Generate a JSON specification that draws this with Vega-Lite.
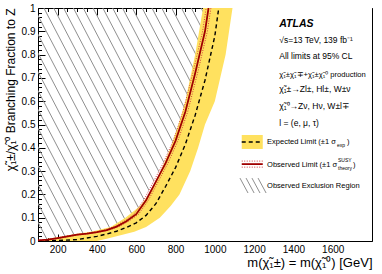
{
  "$schema": "https://vega.github.io/schema/vega-lite/v6.json",
  "width": 334,
  "height": 233,
  "autosize": "none",
  "padding": {"left": 38, "top": 8, "right": 10, "bottom": 33},
  "background": "white",
  "config": {
    "view": {"stroke": null},
    "axis": {"labelFont": "Liberation Sans", "titleFont": "Liberation Sans", "labelColor": "black", "titleColor": "black", "tickColor": "black", "domainColor": "black", "grid": false, "zindex": 1},
    "text": {"font": "Liberation Sans", "color": "black", "align": "left", "baseline": "alphabetic"}
  },
  "datasets": {
    "obs": [
      {"mass": 100, "br": 0.0, "mlo": 100, "mhi": 100},
      {"mass": 100, "br": 0.003, "mlo": 100, "mhi": 112},
      {"mass": 150, "br": 0.006, "mlo": 138, "mhi": 162},
      {"mass": 200, "br": 0.012, "mlo": 188, "mhi": 212},
      {"mass": 250, "br": 0.02, "mlo": 238, "mhi": 262},
      {"mass": 300, "br": 0.027, "mlo": 288, "mhi": 312},
      {"mass": 350, "br": 0.032, "mlo": 338, "mhi": 362},
      {"mass": 400, "br": 0.038, "mlo": 388, "mhi": 412},
      {"mass": 450, "br": 0.047, "mlo": 438, "mhi": 462},
      {"mass": 500, "br": 0.062, "mlo": 488, "mhi": 512},
      {"mass": 550, "br": 0.085, "mlo": 538, "mhi": 562},
      {"mass": 600, "br": 0.115, "mlo": 588, "mhi": 612},
      {"mass": 650, "br": 0.175, "mlo": 638, "mhi": 662},
      {"mass": 700, "br": 0.255, "mlo": 688, "mhi": 712},
      {"mass": 750, "br": 0.335, "mlo": 738, "mhi": 762},
      {"mass": 800, "br": 0.43, "mlo": 788, "mhi": 812},
      {"mass": 850, "br": 0.555, "mlo": 838, "mhi": 862},
      {"mass": 900, "br": 0.72, "mlo": 888, "mhi": 912},
      {"mass": 950, "br": 0.9, "mlo": 938, "mhi": 962},
      {"mass": 968, "br": 1.0, "mlo": 956, "mhi": 980}
    ],
    "exp": [
      {"mass": 100, "br": 0.0}, {"mass": 200, "br": 0.002}, {"mass": 300, "br": 0.006},
      {"mass": 400, "br": 0.02}, {"mass": 450, "br": 0.03}, {"mass": 500, "br": 0.042},
      {"mass": 550, "br": 0.058}, {"mass": 600, "br": 0.078}, {"mass": 650, "br": 0.11},
      {"mass": 700, "br": 0.16}, {"mass": 750, "br": 0.235}, {"mass": 800, "br": 0.315},
      {"mass": 850, "br": 0.415}, {"mass": 900, "br": 0.54}, {"mass": 950, "br": 0.69},
      {"mass": 1000, "br": 0.88}, {"mass": 1020, "br": 1.0}
    ],
    "band": [
      {"br": 0, "lo": 100, "hi": 400}, {"br": 0.01, "lo": 150, "hi": 450},
      {"br": 0.02, "lo": 230, "hi": 500}, {"br": 0.03, "lo": 290, "hi": 545},
      {"br": 0.04, "lo": 370, "hi": 590}, {"br": 0.06, "lo": 470, "hi": 650},
      {"br": 0.1, "lo": 545, "hi": 720}, {"br": 0.15, "lo": 620, "hi": 775},
      {"br": 0.2, "lo": 665, "hi": 820}, {"br": 0.3, "lo": 725, "hi": 875},
      {"br": 0.4, "lo": 775, "hi": 915}, {"br": 0.5, "lo": 815, "hi": 950},
      {"br": 0.6, "lo": 850, "hi": 1000}, {"br": 0.8, "lo": 900, "hi": 1055},
      {"br": 1.0, "lo": 940, "hi": 1090}
    ],
    "hatch": [
      {"top": -520, "bottom": 100}, {"top": -470, "bottom": 150}, {"top": -420, "bottom": 200},
      {"top": -370, "bottom": 250}, {"top": -320, "bottom": 300}, {"top": -270, "bottom": 350},
      {"top": -220, "bottom": 400}, {"top": -170, "bottom": 450}, {"top": -120, "bottom": 500},
      {"top": -70, "bottom": 550}, {"top": -20, "bottom": 600}, {"top": 30, "bottom": 650},
      {"top": 80, "bottom": 700}, {"top": 130, "bottom": 750}, {"top": 180, "bottom": 800},
      {"top": 230, "bottom": 850}, {"top": 280, "bottom": 900}, {"top": 330, "bottom": 950},
      {"top": 380, "bottom": 1000}, {"top": 430, "bottom": 1050}, {"top": 480, "bottom": 1100},
      {"top": 530, "bottom": 1150}, {"top": 580, "bottom": 1200}, {"top": 630, "bottom": 1250},
      {"top": 680, "bottom": 1300}, {"top": 730, "bottom": 1350}, {"top": 780, "bottom": 1400},
      {"top": 830, "bottom": 1450}, {"top": 880, "bottom": 1500}, {"top": 930, "bottom": 1550},
      {"top": 980, "bottom": 1600}
    ],
    "lhatch": [
      {"a": 1128, "b": 1169}, {"a": 1159, "b": 1200}, {"a": 1189, "b": 1230}, {"a": 1220, "b": 1261}
    ]
  },
  "resolve": {"axis": {"x": "independent", "y": "independent"}},
  "layer": [
    {
      "data": {"name": "hatch"},
      "mark": {"type": "rule", "color": "#8f8f8f", "strokeWidth": 1, "clip": true},
      "encoding": {
        "x": {"field": "top", "type": "quantitative", "scale": {"domain": [100, 1800], "nice": false, "zero": false}, "axis": null},
        "x2": {"field": "bottom"},
        "y": {"datum": 1, "type": "quantitative", "scale": {"domain": [0, 1], "nice": false, "zero": false}, "axis": null},
        "y2": {"datum": 0}
      }
    },
    {
      "data": {"name": "obs"},
      "mark": {"type": "area", "orient": "horizontal", "color": "white", "opacity": 1},
      "encoding": {
        "y": {"field": "br", "type": "quantitative", "scale": {"domain": [0, 1], "nice": false, "zero": false},
              "axis": {"orient": "left", "values": [0, 0.1, 0.2, 0.3, 0.4, 0.5, 0.6, 0.7, 0.8, 0.9, 1], "format": "~g", "ticks": false, "labelPadding": 3, "labelFontSize": 10, "domain": true,
                       "title": "χ̃₁±/χ̃₁⁰ Branching Fraction to Z", "titleAnchor": "end", "titleFontSize": 12, "titleFontWeight": "normal", "titlePadding": 4}},
        "x": {"field": "mlo", "type": "quantitative", "scale": {"domain": [100, 1800], "nice": false, "zero": false},
              "axis": {"orient": "bottom", "values": [200, 400, 600, 800, 1000, 1200, 1400, 1600], "format": "d", "ticks": false, "labelPadding": 3, "labelFontSize": 10, "domain": true,
                       "title": "m(χ̃₁±) = m(χ̃₁⁰) [GeV]", "titleAnchor": "end", "titleFontSize": 13, "titleFontWeight": "normal", "titlePadding": 2}},
        "x2": {"datum": 1800}
      }
    },
    {
      "data": {"name": "band"},
      "mark": {"type": "area", "orient": "horizontal", "color": "#ffe15f", "opacity": 1},
      "encoding": {
        "y": {"field": "br", "type": "quantitative", "axis": {"orient": "left", "values": [0, 0.1, 0.2, 0.3, 0.4, 0.5, 0.6, 0.7, 0.8, 0.9, 1], "labels": false, "domain": false, "tickSize": -7, "title": null}},
        "x": {"field": "lo", "type": "quantitative", "axis": {"orient": "bottom", "values": [200, 400, 600, 800, 1000, 1200, 1400, 1600], "labels": false, "domain": false, "tickSize": -7, "title": null}},
        "x2": {"field": "hi"}
      }
    },
    {
      "data": {"name": "exp"},
      "mark": {"type": "line", "color": "black", "strokeWidth": 1.4, "strokeDash": [4, 3], "clip": true},
      "encoding": {
        "x": {"field": "mass", "type": "quantitative", "axis": {"orient": "bottom", "values": [100, 150, 250, 300, 350, 450, 500, 550, 650, 700, 750, 850, 900, 950, 1050, 1100, 1150, 1250, 1300, 1350, 1450, 1500, 1550, 1650, 1700, 1750], "labels": false, "domain": false, "tickSize": -3.5, "title": null}},
        "y": {"field": "br", "type": "quantitative", "axis": {"orient": "left", "values": [0.02, 0.04, 0.06, 0.08, 0.12, 0.14, 0.16, 0.18, 0.22, 0.24, 0.26, 0.28, 0.32, 0.34, 0.36, 0.38, 0.42, 0.44, 0.46, 0.48, 0.52, 0.54, 0.56, 0.58, 0.62, 0.64, 0.66, 0.68, 0.72, 0.74, 0.76, 0.78, 0.82, 0.84, 0.86, 0.88, 0.92, 0.94, 0.96, 0.98], "labels": false, "domain": false, "tickSize": -3.5, "title": null}}
      }
    },
    {
      "data": {"name": "obs"},
      "mark": {"type": "line", "color": "#d23c3c", "strokeWidth": 1, "strokeDash": [1, 1.5], "clip": true},
      "encoding": {
        "x": {"field": "mlo", "type": "quantitative", "axis": {"orient": "top", "values": [100, 150, 250, 300, 350, 450, 500, 550, 650, 700, 750, 850, 900, 950, 1050, 1100, 1150, 1250, 1300, 1350, 1450, 1500, 1550, 1650, 1700, 1750], "labels": false, "domain": true, "tickSize": -3.5, "title": null}},
        "y": {"field": "br", "type": "quantitative", "axis": {"orient": "right", "values": [0.02, 0.04, 0.06, 0.08, 0.12, 0.14, 0.16, 0.18, 0.22, 0.24, 0.26, 0.28, 0.32, 0.34, 0.36, 0.38, 0.42, 0.44, 0.46, 0.48, 0.52, 0.54, 0.56, 0.58, 0.62, 0.64, 0.66, 0.68, 0.72, 0.74, 0.76, 0.78, 0.82, 0.84, 0.86, 0.88, 0.92, 0.94, 0.96, 0.98], "labels": false, "domain": true, "tickSize": -3.5, "title": null}}
      }
    },
    {
      "data": {"name": "obs"},
      "mark": {"type": "line", "color": "#d23c3c", "strokeWidth": 1, "strokeDash": [1, 1.5], "clip": true},
      "encoding": {
        "x": {"field": "mhi", "type": "quantitative", "axis": null},
        "y": {"field": "br", "type": "quantitative", "axis": null}
      }
    },
    {
      "data": {"name": "obs"},
      "mark": {"type": "line", "color": "#a00000", "strokeWidth": 1.8, "clip": true},
      "encoding": {
        "x": {"field": "mass", "type": "quantitative", "axis": {"orient": "top", "values": [200, 400, 600, 800, 1000, 1200, 1400, 1600], "labels": false, "domain": false, "tickSize": -7, "title": null}},
        "y": {"field": "br", "type": "quantitative", "axis": {"orient": "right", "values": [0, 0.1, 0.2, 0.3, 0.4, 0.5, 0.6, 0.7, 0.8, 0.9, 1], "labels": false, "domain": false, "tickSize": -7, "title": null}}
      }
    },
    {
      "data": {"values": [{"k": 1}]},
      "mark": {"type": "rect", "color": "#ffe15f"},
      "encoding": {
        "x": {"datum": 1137, "type": "quantitative", "axis": null}, "x2": {"datum": 1244},
        "y": {"datum": 0.455, "type": "quantitative", "axis": null}, "y2": {"datum": 0.395}
      }
    },
    {
      "data": {"values": [{"k": 1}]},
      "mark": {"type": "rule", "color": "black", "strokeWidth": 1.4, "strokeDash": [4, 3]},
      "encoding": {
        "x": {"datum": 1137, "type": "quantitative", "axis": null}, "x2": {"datum": 1244},
        "y": {"datum": 0.425, "type": "quantitative", "axis": null}
      }
    },
    {
      "data": {"values": [{"k": 1}]},
      "mark": {"type": "rule", "color": "#a00000", "strokeWidth": 1.8},
      "encoding": {
        "x": {"datum": 1137, "type": "quantitative", "axis": null}, "x2": {"datum": 1244},
        "y": {"datum": 0.330, "type": "quantitative", "axis": null}
      }
    },
    {
      "data": {"values": [{"y": 0.343}, {"y": 0.317}]},
      "mark": {"type": "rule", "color": "#d23c3c", "strokeWidth": 1, "strokeDash": [1, 1.5]},
      "encoding": {
        "x": {"datum": 1137, "type": "quantitative", "axis": null}, "x2": {"datum": 1244},
        "y": {"field": "y", "type": "quantitative", "axis": null}
      }
    },
    {
      "data": {"name": "lhatch"},
      "mark": {"type": "rule", "color": "#8f8f8f", "strokeWidth": 1},
      "encoding": {
        "x": {"field": "a", "type": "quantitative", "axis": null}, "x2": {"field": "b"},
        "y": {"datum": 0.270, "type": "quantitative", "axis": null}, "y2": {"datum": 0.206}
      }
    },
    {
      "data": {"values": [{"label": "ATLAS"}]},
      "mark": {"type": "text", "fontSize": 10.5, "fontWeight": "bold", "fontStyle": "italic"},
      "encoding": {"text": {"field": "label"}, "x": {"datum": 1328, "type": "quantitative", "axis": null}, "y": {"datum": 0.920, "type": "quantitative", "axis": null}}
    },
    {
      "data": {"values": [{"label": "√s=13 TeV, 139 fb⁻¹"}]},
      "mark": {"type": "text", "fontSize": 8.5},
      "encoding": {"text": {"field": "label"}, "x": {"datum": 1328, "type": "quantitative", "axis": null}, "y": {"datum": 0.848, "type": "quantitative", "axis": null}}
    },
    {
      "data": {"values": [{"label": "All limits at 95% CL"}]},
      "mark": {"type": "text", "fontSize": 8.5},
      "encoding": {"text": {"field": "label"}, "x": {"datum": 1328, "type": "quantitative", "axis": null}, "y": {"datum": 0.781, "type": "quantitative", "axis": null}}
    },
    {
      "data": {"values": [{"label": "χ̃₁±χ̃₁∓+χ̃₁±χ̃₁⁰ production"}]},
      "mark": {"type": "text", "fontSize": 7.6},
      "encoding": {"text": {"field": "label"}, "x": {"datum": 1328, "type": "quantitative", "axis": null}, "y": {"datum": 0.705, "type": "quantitative", "axis": null}}
    },
    {
      "data": {"values": [{"label": "χ̃₁±→Zl±, Hl±, W±ν"}]},
      "mark": {"type": "text", "fontSize": 8.5},
      "encoding": {"text": {"field": "label"}, "x": {"datum": 1328, "type": "quantitative", "axis": null}, "y": {"datum": 0.641, "type": "quantitative", "axis": null}}
    },
    {
      "data": {"values": [{"label": "χ̃₁⁰→Zν, Hν, W±l∓"}]},
      "mark": {"type": "text", "fontSize": 8.5},
      "encoding": {"text": {"field": "label"}, "x": {"datum": 1328, "type": "quantitative", "axis": null}, "y": {"datum": 0.567, "type": "quantitative", "axis": null}}
    },
    {
      "data": {"values": [{"label": "l = (e, μ, τ)"}]},
      "mark": {"type": "text", "fontSize": 8.5},
      "encoding": {"text": {"field": "label"}, "x": {"datum": 1328, "type": "quantitative", "axis": null}, "y": {"datum": 0.494, "type": "quantitative", "axis": null}}
    },
    {
      "data": {"values": [{"label": "Expected Limit (±1 σ"}]},
      "mark": {"type": "text", "fontSize": 7.5},
      "encoding": {"text": {"field": "label"}, "x": {"datum": 1266, "type": "quantitative", "axis": null}, "y": {"datum": 0.416, "type": "quantitative", "axis": null}}
    },
    {
      "data": {"values": [{"label": "exp"}]},
      "mark": {"type": "text", "fontSize": 5},
      "encoding": {"text": {"field": "label"}, "x": {"datum": 1622, "type": "quantitative", "axis": null}, "y": {"datum": 0.404, "type": "quantitative", "axis": null}}
    },
    {
      "data": {"values": [{"label": ")"}]},
      "mark": {"type": "text", "fontSize": 7.5},
      "encoding": {"text": {"field": "label"}, "x": {"datum": 1673, "type": "quantitative", "axis": null}, "y": {"datum": 0.416, "type": "quantitative", "axis": null}}
    },
    {
      "data": {"values": [{"label": "Observed Limit (±1 σ"}]},
      "mark": {"type": "text", "fontSize": 7.5},
      "encoding": {"text": {"field": "label"}, "x": {"datum": 1266, "type": "quantitative", "axis": null}, "y": {"datum": 0.319, "type": "quantitative", "axis": null}}
    },
    {
      "data": {"values": [{"label": "SUSY"}]},
      "mark": {"type": "text", "fontSize": 5},
      "encoding": {"text": {"field": "label"}, "x": {"datum": 1627, "type": "quantitative", "axis": null}, "y": {"datum": 0.339, "type": "quantitative", "axis": null}}
    },
    {
      "data": {"values": [{"label": "theory"}]},
      "mark": {"type": "text", "fontSize": 5},
      "encoding": {"text": {"field": "label"}, "x": {"datum": 1627, "type": "quantitative", "axis": null}, "y": {"datum": 0.305, "type": "quantitative", "axis": null}}
    },
    {
      "data": {"values": [{"label": ")"}]},
      "mark": {"type": "text", "fontSize": 7.5},
      "encoding": {"text": {"field": "label"}, "x": {"datum": 1703, "type": "quantitative", "axis": null}, "y": {"datum": 0.319, "type": "quantitative", "axis": null}}
    },
    {
      "data": {"values": [{"label": "Observed Exclusion Region"}]},
      "mark": {"type": "text", "fontSize": 7.5},
      "encoding": {"text": {"field": "label"}, "x": {"datum": 1266, "type": "quantitative", "axis": null}, "y": {"datum": 0.229, "type": "quantitative", "axis": null}}
    }
  ]
}
